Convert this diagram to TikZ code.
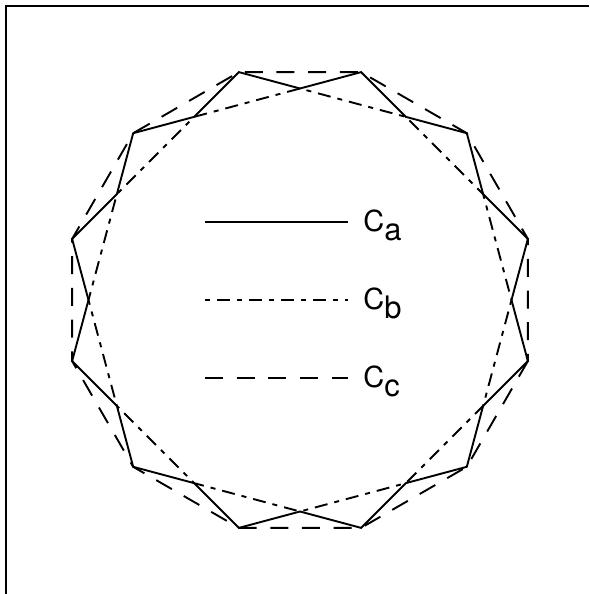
\documentclass[tikz,border=0pt]{standalone}
\usepackage{fontspec}
\setmainfont{TeX Gyre Heros}
\begin{document}
\begin{tikzpicture}[x=1pt,y=-1pt,line width=1.9pt,
  ca/.style={solid},
  cb/.style={dash pattern=on 5pt off 7pt on 13pt off 7pt},
  cc/.style={dash pattern=on 18pt off 13.7pt},
  lab/.style={anchor=base west,inner sep=0pt,font=\fontsize{29}{34}\selectfont}]
\useasboundingbox (0,0) rectangle (589,594);
% frame
\coordinate (fb) at (6,594);
\coordinate (fc) at (6,6);
\coordinate (fr) at (589,6);
\draw[line width=1.8pt] (fb) -- (fc) -- (fr);
\def\rr{211.5}
\def\RR{235.9}
\begin{scope}[shift={(300,300)}]
  % C_b : regular 12-gon
  \draw[cb] (0:\rr) \foreach \a in {30,60,...,330}{ -- (\a:\rr)} -- cycle;
  % C_c : outer regular 12-gon
  \draw[cc] (15:\RR) \foreach \a in {45,75,...,345}{ -- (\a:\RR)} -- cycle;
  % C_a : star
  \draw[ca] (0:\rr) \foreach \a in {0,30,...,300}{ -- (\a+15:\RR) -- (\a+30:\rr)} -- (345:\RR) -- cycle;
\end{scope}
% legend
\coordinate (la1) at (205,222); \coordinate (la2) at (348,222);
\coordinate (lb1) at (205,300); \coordinate (lb2) at (348,300);
\coordinate (lc1) at (205,378); \coordinate (lc2) at (348,378);
\draw[ca] (la1) -- (la2);
\draw[cb] (lb1) -- (lb2);
\draw[cc] (lc1) -- (lc2);
\node[lab] (ta) at (362.5,231) {C\raisebox{-9pt}{\fontsize{31}{34}\selectfont a}};
\node[lab] (tb) at (362.5,309) {C\raisebox{-9pt}{\fontsize{31}{34}\selectfont b}};
\node[lab] (tc) at (362.5,387) {C\raisebox{-9pt}{\fontsize{31}{34}\selectfont c}};
\end{tikzpicture}
\end{document}
